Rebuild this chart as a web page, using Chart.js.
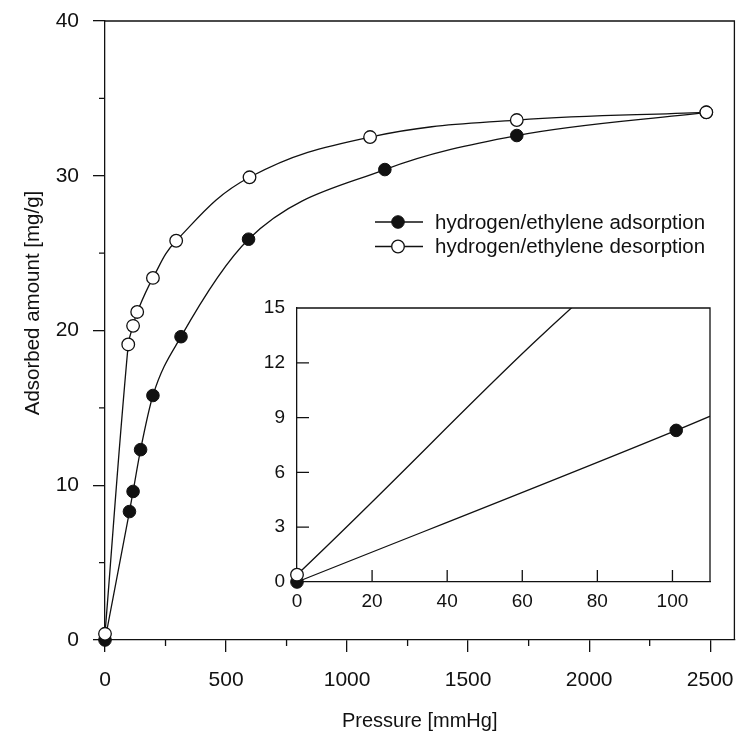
<!DOCTYPE html>
<html><head><meta charset="utf-8">
<script src="https://cdn.jsdelivr.net/npm/chart.js@4.4.1/dist/chart.umd.min.js"></script>
<style>
html,body{margin:0;padding:0;background:#fff;}
#wrap{position:relative;width:742px;height:732px;background:#fff;}
#main{position:absolute;left:0;top:0;}
#inset{position:absolute;left:250px;top:300px;}
</style></head><body>
<div id="wrap">
<canvas id="main" width="742" height="732"></canvas>
<canvas id="inset" width="480" height="325"></canvas>
</div>
<script>
// ---- data ----
const seriesNames = ['hydrogen/ethylene adsorption', 'hydrogen/ethylene desorption'];
const pressureAds = [0, 101, 116, 147, 198, 314, 593, 1156, 1701, 2484];
const adsorption  = [0, 8.3, 9.6, 12.3, 15.8, 19.6, 25.9, 30.4, 32.6, 34.1];
const pressureDes = [0, 96, 116, 133, 198, 294, 597, 1095, 1701, 2484];
const desorption  = [0.4, 19.1, 20.3, 21.2, 23.4, 25.8, 29.9, 32.5, 33.6, 34.1];

const mainXTicks = [0, 500, 1000, 1500, 2000, 2500];
const mainXMinor = [250, 750, 1250, 1750, 2250];
const mainYTicks = [0, 10, 20, 30, 40];
const mainYMinor = [5, 15, 25, 35];
const insetXTicks = [0, 20, 40, 60, 80, 100];
const insetYTicks = [0, 3, 6, 9, 12, 15];
const xTitle = 'Pressure [mmHg]';
const yTitle = 'Adsorbed amount [mg/g]';

const FONT = '"Liberation Sans", Arial, Helvetica, sans-serif';
const INK = '#111';
Chart.defaults.font.family = FONT;
Chart.defaults.color = INK;

function pts(xs, ys) { return xs.map((x, i) => ({ x: x, y: ys[i] })); }

function makeDatasets(clip) {
  return [
    {
      label: seriesNames[0], data: pts(pressureAds, adsorption),
      borderColor: INK, borderWidth: 1.3, backgroundColor: INK,
      pointBackgroundColor: INK, pointBorderColor: INK, pointBorderWidth: 1,
      pointRadius: 6.3, fill: false, cubicInterpolationMode: 'monotone',
      clip: clip, order: 2
    },
    {
      label: seriesNames[1], data: pts(pressureDes, desorption),
      borderColor: INK, borderWidth: 1.3, backgroundColor: '#fff',
      pointBackgroundColor: '#fff', pointBorderColor: INK, pointBorderWidth: 1.3,
      pointRadius: 6.3, fill: false, tension: 0.4,
      clip: clip, order: 1
    }
  ];
}

const mainDecor = {
  id: 'mainDecor',
  afterDraw(chart) {
    const { ctx, chartArea: a, scales: { x, y } } = chart;
    ctx.save();
    ctx.strokeStyle = INK; ctx.lineWidth = 1.3;
    ctx.beginPath();
    ctx.moveTo(a.left, a.top); ctx.lineTo(a.right, a.top); ctx.lineTo(a.right, a.bottom);
    ctx.stroke();
    ctx.beginPath();
    mainXMinor.forEach(v => { const p = x.getPixelForValue(v); ctx.moveTo(p, a.bottom); ctx.lineTo(p, a.bottom + 6); });
    mainYMinor.forEach(v => { const p = y.getPixelForValue(v); ctx.moveTo(a.left, p); ctx.lineTo(a.left - 6, p); });
    ctx.stroke();
    // y axis title
    ctx.save();
    ctx.translate(33, 303);
    ctx.rotate(-Math.PI / 2);
    ctx.fillStyle = INK;
    ctx.font = '20.5px ' + FONT;
    ctx.textAlign = 'center'; ctx.textBaseline = 'middle';
    ctx.fillText(yTitle, 0, 0);
    ctx.restore();
    // legend
    const rows = [222, 246.5];
    chart.data.datasets.forEach((ds, i) => {
      const yy = rows[i];
      ctx.beginPath();
      ctx.lineWidth = ds.borderWidth; ctx.strokeStyle = ds.borderColor;
      ctx.moveTo(375, yy); ctx.lineTo(423, yy); ctx.stroke();
      ctx.beginPath();
      ctx.arc(398, yy, ds.pointRadius, 0, Math.PI * 2);
      ctx.fillStyle = ds.pointBackgroundColor; ctx.fill();
      ctx.lineWidth = ds.pointBorderWidth; ctx.strokeStyle = ds.pointBorderColor; ctx.stroke();
      ctx.fillStyle = INK;
      ctx.font = '20.5px ' + FONT;
      ctx.textBaseline = 'middle'; ctx.textAlign = 'left';
      ctx.fillText(ds.label, 435, yy + 1);
    });
    ctx.restore();
  }
};

new Chart(document.getElementById('main'), {
  type: 'line',
  data: { datasets: makeDatasets({ left: 10, top: 0, right: 10, bottom: 10 }) },
  options: {
    responsive: false, animation: false, devicePixelRatio: 1,
    layout: { padding: { top: 21, right: 5, left: 21, bottom: 0 } },
    plugins: { legend: { display: false }, tooltip: { enabled: false } },
    scales: {
      x: {
        type: 'linear', min: 0, max: 2600,
        afterBuildTicks: s => { s.ticks = mainXTicks.map(v => ({ value: v })); },
        afterFit: s => { s.height = 92; s.paddingLeft = 0; s.paddingRight = 0; },
        grid: { display: true, drawOnChartArea: false, drawTicks: true, tickLength: 12, color: INK, lineWidth: 1.3 },
        border: { display: true, color: INK, width: 1.3 },
        ticks: { callback: v => String(v), font: { size: 21 }, padding: 16, color: INK, autoSkip: false, maxRotation: 0 },
        title: { display: true, text: xTitle, font: { size: 20 }, color: INK, padding: { top: 0, bottom: -1 } }
      },
      y: {
        type: 'linear', min: 0, max: 40,
        afterBuildTicks: s => { s.ticks = mainYTicks.map(v => ({ value: v })); },
        afterFit: s => { s.width = 84; s.paddingTop = 0; s.paddingBottom = 0; },
        grid: { display: true, drawOnChartArea: false, drawTicks: true, tickLength: 12, color: INK, lineWidth: 1.3 },
        border: { display: true, color: INK, width: 1.3 },
        ticks: { callback: v => String(v), font: { size: 21 }, padding: 14, color: INK, autoSkip: false },
        title: { display: false, text: yTitle }
      }
    }
  },
  plugins: [mainDecor]
});

const insetDecor = {
  id: 'insetDecor',
  afterDraw(chart) {
    const { ctx, chartArea: a, scales: { x, y } } = chart;
    ctx.save();
    ctx.strokeStyle = INK; ctx.lineWidth = 1.3;
    ctx.beginPath();
    ctx.moveTo(a.left, a.top); ctx.lineTo(a.right, a.top); ctx.lineTo(a.right, a.bottom);
    ctx.stroke();
    ctx.beginPath();
    insetXTicks.slice(1).forEach(v => { const p = x.getPixelForValue(v); ctx.moveTo(p, a.bottom); ctx.lineTo(p, a.bottom - 12); });
    insetYTicks.slice(1, -1).forEach(v => { const p = y.getPixelForValue(v); ctx.moveTo(a.left, p); ctx.lineTo(a.left + 12, p); });
    ctx.stroke();
    ctx.restore();
  }
};

new Chart(document.getElementById('inset'), {
  type: 'line',
  data: { datasets: makeDatasets({ left: 10, top: 0, right: 0, bottom: 10 }) },
  options: {
    responsive: false, animation: false, devicePixelRatio: 1,
    layout: { padding: { top: 8, right: 20, left: 0, bottom: 0 } },
    plugins: { legend: { display: false }, tooltip: { enabled: false } },
    scales: {
      x: {
        type: 'linear', min: 0, max: 110,
        afterBuildTicks: s => { s.ticks = insetXTicks.map(v => ({ value: v })); },
        afterFit: s => { s.height = 43; s.paddingLeft = 0; s.paddingRight = 0; },
        grid: { display: true, drawOnChartArea: false, drawTicks: false },
        border: { display: true, color: INK, width: 1.3 },
        ticks: { callback: v => String(v), font: { size: 19 }, padding: 8, color: INK, autoSkip: false, maxRotation: 0 }
      },
      y: {
        type: 'linear', min: 0, max: 15,
        afterBuildTicks: s => { s.ticks = insetYTicks.map(v => ({ value: v })); },
        afterFit: s => { s.width = 47; s.paddingTop = 0; s.paddingBottom = 0; },
        grid: { display: true, drawOnChartArea: false, drawTicks: false },
        border: { display: true, color: INK, width: 1.3 },
        ticks: { callback: v => String(v), font: { size: 19 }, padding: 12, color: INK, autoSkip: false }
      }
    }
  },
  plugins: [insetDecor]
});
</script>
</body></html>
